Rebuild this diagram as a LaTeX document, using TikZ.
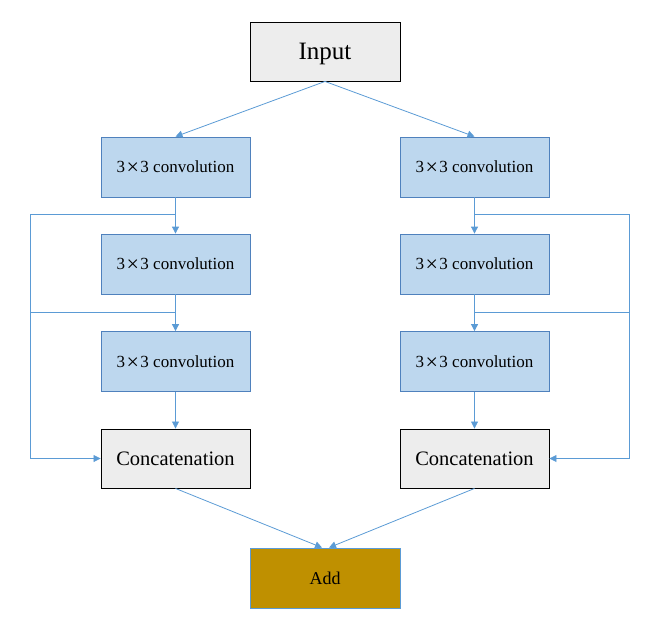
\documentclass[tikz,border=0pt]{standalone}
\usepackage{fontspec}
\setmainfont{Liberation Serif}
\usetikzlibrary{arrows.meta}
\definecolor{lnblue}{HTML}{5B9BD5}
\definecolor{convfill}{HTML}{BDD7EE}
\definecolor{convdraw}{HTML}{4F81BD}
\definecolor{grayfill}{HTML}{EDEDED}
\definecolor{addfill}{HTML}{BF9000}
\newcommand{\bigtimes}{\kern1.5pt\raisebox{-1.8pt}[0pt][0pt]{\fontsize{22}{24}\selectfont ×}\kern1.5pt}
\tikzset{
  convbox/.style={draw=convdraw, fill=convfill, line width=0.8pt, minimum width=149pt, minimum height=60pt, inner sep=0pt, font=\fontsize{17}{19}\selectfont},
  graybox/.style={draw=black, fill=grayfill, line width=0.9pt, minimum width=149pt, minimum height=59pt, inner sep=0pt},
  addbox/.style={draw=lnblue, fill=addfill, line width=0.8pt, minimum width=150pt, minimum height=60pt, inner sep=0pt, font=\fontsize{18}{20}\selectfont},
  conn/.style={draw=lnblue, line width=0.8pt},
  arr/.style={conn, -{Triangle[width=7pt,length=7pt]}},
}
\begin{document}
\begin{tikzpicture}[x=1pt,y=-1pt]
\useasboundingbox (0,0) rectangle (661,634);
\node[graybox, font=\fontsize{25}{27}\selectfont, minimum width=150pt] (in) at (325,51.5) {\raisebox{-2pt}[\height][\depth]{Input}};
\node[convbox] (l1) at (175.5,167) {3\bigtimes3 convolution};
\node[convbox] (l2) at (175.5,264) {3\bigtimes3 convolution};
\node[convbox] (l3) at (175.5,361.5) {3\bigtimes3 convolution};
\node[graybox, font=\fontsize{20.5}{22}\selectfont] (lc) at (175.5,458.5) {Concatenation};
\node[convbox] (r1) at (474.5,167) {3\bigtimes3 convolution};
\node[convbox] (r2) at (474.5,264) {3\bigtimes3 convolution};
\node[convbox] (r3) at (474.5,361.5) {3\bigtimes3 convolution};
\node[graybox, font=\fontsize{20.5}{22}\selectfont] (rc) at (474.5,458.5) {Concatenation};
\node[addbox] (add) at (325,578) {Add};
% coordinates
\coordinate (lj1) at (175.5,214);
\coordinate (lj2) at (175.5,312);
\coordinate (lo1) at (30,214);
\coordinate (lo2) at (30,312);
\coordinate (lo3) at (30,458.5);
\coordinate (rj1) at (474.5,214);
\coordinate (rj2) at (474.5,312);
\coordinate (ro1) at (629,214);
\coordinate (ro2) at (629,312);
\coordinate (ro3) at (629,458.5);
% input arrows
\draw[arr] (in.south) -- (l1.north);
\draw[arr] (in.south) -- (r1.north);
% column arrows
\draw[arr] (l1) -- (l2);
\draw[arr] (l2) -- (l3);
\draw[arr] (l3) -- (lc);
\draw[arr] (r1) -- (r2);
\draw[arr] (r2) -- (r3);
\draw[arr] (r3) -- (rc);
% skip connections
\draw[arr] (lj1) -- (lo1) -- (lo3) -- (lc.west);
\draw[conn] (lo2) -- (lj2);
\draw[arr] (rj1) -- (ro1) -- (ro3) -- (rc.east);
\draw[conn] (ro2) -- (rj2);
% to add
\draw[arr] (lc.south) -- ([xshift=-3pt]add.north);
\draw[arr] (rc.south) -- ([xshift=4pt]add.north);
\end{tikzpicture}
\end{document}
